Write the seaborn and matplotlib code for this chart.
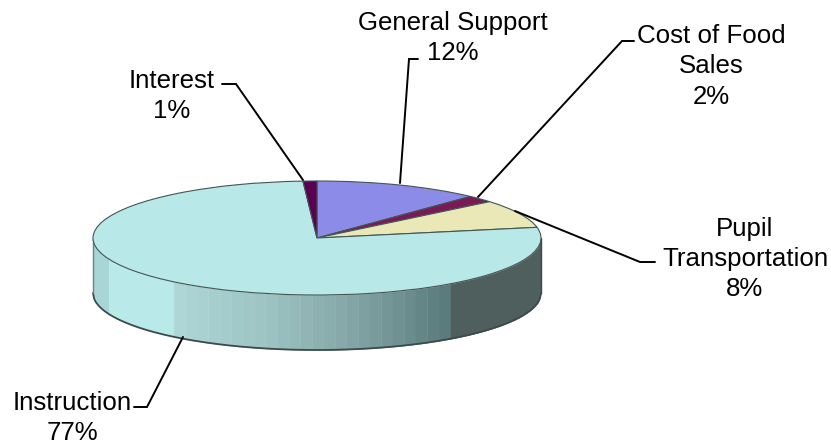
import numpy as np
import matplotlib
matplotlib.use("Agg")
import matplotlib.pyplot as plt
import seaborn as sns

categories = ["General Support", "Cost of Food Sales", "Pupil Transportation", "Instruction", "Interest"]
values = [12, 2, 8, 77, 1]
label_names = ["General Support", "Cost of Food\nSales", "Pupil\nTransportation", "Instruction", "Interest"]
colors = ["#8c8ce8", "#7a1a55", "#ebe8b8", "#b8e8e8", "#5a0050"]

sns.set_theme(style="white")
plt.rcParams["font.family"] = ["Liberation Sans", "DejaVu Sans"]

W, H = 831, 444
CX, CY, RX, RY, DEPTH = 317.0, 238.0, 224.0, 57.0, 55.0


def px(x, y):
    return (x - CX) / RX, (CY - y) / RY


fig = plt.figure(figsize=(W / 100, H / 100), dpi=100)
ax = fig.add_axes([0, 0, 1, 1])

# side wall, banded shading from left to right
d = DEPTH / RY
edges = np.linspace(-0.64, 0.594, 25)
band_edges = np.r_[-1.0, -0.93, edges, 1.0]
band_cols = (["#a8d6d6", "#b9e9e9"]
             + list(sns.blend_palette(["#aed6d6", "#9cc2c2", "#82a4a4", "#5a7c7c"], len(edges) - 1))
             + ["#4f5f5d"])
for i in range(len(band_edges) - 1):
    xs = np.linspace(band_edges[i], band_edges[i + 1], 30)
    rim = -np.sqrt(np.clip(1 - xs ** 2, 0, None))
    ax.fill_between(xs, rim - d, rim, color=band_cols[i], lw=0.3, zorder=1)
xs = np.linspace(-1, 1, 400)
rim = -np.sqrt(1 - xs ** 2)
ax.plot(xs, rim - d, color="#3c4a4a", lw=1.3, zorder=2)
ax.plot([-1, -1], [0, -d], color="#6a8080", lw=1.0, zorder=2)
ax.plot([1, 1], [0, -d], color="#3c4a4a", lw=1.0, zorder=2)

# top face
wedges, _ = ax.pie(values, colors=colors, startangle=90, counterclock=False, radius=1.0,
                   wedgeprops=dict(edgecolor="#445555", linewidth=0.8, zorder=3))
ax.set_aspect("auto")
ax.set_xlim(px(0, 0)[0], px(W, 0)[0])
ax.set_ylim(px(0, H)[1], px(0, 0)[1])
ax.axis("off")

# leader lines
leaders = [
    [(400, 183), (409, 59), (418, 59)],
    [(478, 197), (622, 41), (634, 41)],
    [(515, 211), (640, 262), (655, 262)],
    [(183, 337), (147, 407), (134, 407)],
    [(303, 180), (236, 84), (222, 84)],
]
for pts in leaders:
    p = np.array([px(*q) for q in pts])
    ax.plot(p[:, 0], p[:, 1], color="black", lw=1.4, zorder=5, solid_joinstyle="miter")

# labels
anchors = [(453, 38), (711, 66.5), (745, 259), (72, 418), (172, 96)]
for name, v, (x, y) in zip(label_names, values, anchors):
    ax.text(*px(x, y), f"{name}\n{v}%", ha="center", va="center", ma="center",
            fontsize=18.6, color="black", linespacing=1.32, zorder=6)

fig.savefig("out.png", dpi=100, facecolor="white")
